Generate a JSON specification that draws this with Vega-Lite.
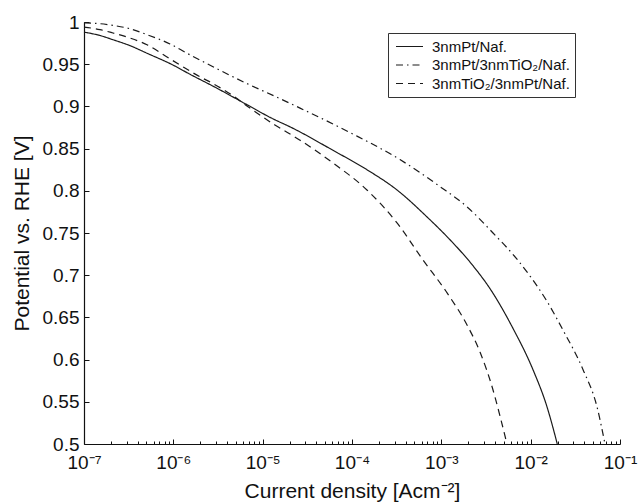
{
  "$schema": "https://vega.github.io/schema/vega-lite/v6.json",
  "autosize": {"type": "none"},
  "padding": {"left": 84, "top": 22, "right": 22, "bottom": 60},
  "width": 536,
  "height": 422,
  "background": "white",
  "config": {
    "view": {"stroke": null},
    "font": "Liberation Sans",
    "axis": {"grid": false, "domainColor": "#111", "tickColor": "#111", "labelColor": "#111", "titleColor": "#111", "labelFont": "Liberation Sans", "titleFont": "Liberation Sans", "titleFontWeight": "normal", "domainWidth": 1.2, "tickWidth": 1}
  },
  "data": {"values": [
    {"sample": "3nmPt/Naf.", "j": 1e-7, "E": 0.988},
    {"sample": "3nmPt/Naf.", "j": 1.51e-7, "E": 0.984},
    {"sample": "3nmPt/Naf.", "j": 2.11e-7, "E": 0.979},
    {"sample": "3nmPt/Naf.", "j": 3.27e-7, "E": 0.972},
    {"sample": "3nmPt/Naf.", "j": 5.07e-7, "E": 0.963},
    {"sample": "3nmPt/Naf.", "j": 9.91e-7, "E": 0.949},
    {"sample": "3nmPt/Naf.", "j": 1.54e-6, "E": 0.938},
    {"sample": "3nmPt/Naf.", "j": 2.78e-6, "E": 0.924},
    {"sample": "3nmPt/Naf.", "j": 6.68e-6, "E": 0.902},
    {"sample": "3nmPt/Naf.", "j": 1.21e-5, "E": 0.887},
    {"sample": "3nmPt/Naf.", "j": 2.19e-5, "E": 0.874},
    {"sample": "3nmPt/Naf.", "j": 6.12e-5, "E": 0.848},
    {"sample": "3nmPt/Naf.", "j": 1.47e-4, "E": 0.825},
    {"sample": "3nmPt/Naf.", "j": 3.19e-4, "E": 0.801},
    {"sample": "3nmPt/Naf.", "j": 6.92e-4, "E": 0.769},
    {"sample": "3nmPt/Naf.", "j": 1.25e-3, "E": 0.742},
    {"sample": "3nmPt/Naf.", "j": 2.27e-3, "E": 0.711},
    {"sample": "3nmPt/Naf.", "j": 3.51e-3, "E": 0.684},
    {"sample": "3nmPt/Naf.", "j": 6.34e-3, "E": 0.637},
    {"sample": "3nmPt/Naf.", "j": 1.062e-2, "E": 0.588},
    {"sample": "3nmPt/Naf.", "j": 1.524e-2, "E": 0.544},
    {"sample": "3nmPt/Naf.", "j": 1.986e-2, "E": 0.500},
    {"sample": "3nmPt/3nmTiO₂/Naf.", "j": 1e-7, "E": 0.999},
    {"sample": "3nmPt/3nmTiO₂/Naf.", "j": 1.51e-7, "E": 0.998},
    {"sample": "3nmPt/3nmTiO₂/Naf.", "j": 2.11e-7, "E": 0.996},
    {"sample": "3nmPt/3nmTiO₂/Naf.", "j": 3.27e-7, "E": 0.992},
    {"sample": "3nmPt/3nmTiO₂/Naf.", "j": 5.07e-7, "E": 0.985},
    {"sample": "3nmPt/3nmTiO₂/Naf.", "j": 9.18e-7, "E": 0.974},
    {"sample": "3nmPt/3nmTiO₂/Naf.", "j": 1.42e-6, "E": 0.963},
    {"sample": "3nmPt/3nmTiO₂/Naf.", "j": 3.16e-6, "E": 0.944},
    {"sample": "3nmPt/3nmTiO₂/Naf.", "j": 6.68e-6, "E": 0.927},
    {"sample": "3nmPt/3nmTiO₂/Naf.", "j": 1.37e-5, "E": 0.912},
    {"sample": "3nmPt/3nmTiO₂/Naf.", "j": 2.62e-5, "E": 0.898},
    {"sample": "3nmPt/3nmTiO₂/Naf.", "j": 9.51e-5, "E": 0.869},
    {"sample": "3nmPt/3nmTiO₂/Naf.", "j": 3.44e-4, "E": 0.837},
    {"sample": "3nmPt/3nmTiO₂/Naf.", "j": 9.66e-4, "E": 0.805},
    {"sample": "3nmPt/3nmTiO₂/Naf.", "j": 1.94e-3, "E": 0.781},
    {"sample": "3nmPt/3nmTiO₂/Naf.", "j": 3.79e-3, "E": 0.750},
    {"sample": "3nmPt/3nmTiO₂/Naf.", "j": 7.03e-3, "E": 0.719},
    {"sample": "3nmPt/3nmTiO₂/Naf.", "j": 9.84e-3, "E": 0.699},
    {"sample": "3nmPt/3nmTiO₂/Naf.", "j": 1.524e-2, "E": 0.669},
    {"sample": "3nmPt/3nmTiO₂/Naf.", "j": 2.30e-2, "E": 0.635},
    {"sample": "3nmPt/3nmTiO₂/Naf.", "j": 3.86e-2, "E": 0.588},
    {"sample": "3nmPt/3nmTiO₂/Naf.", "j": 5.53e-2, "E": 0.544},
    {"sample": "3nmPt/3nmTiO₂/Naf.", "j": 6.79e-2, "E": 0.500},
    {"sample": "3nmTiO₂/3nmPt/Naf.", "j": 1e-7, "E": 0.994},
    {"sample": "3nmTiO₂/3nmPt/Naf.", "j": 1.51e-7, "E": 0.991},
    {"sample": "3nmTiO₂/3nmPt/Naf.", "j": 2.11e-7, "E": 0.987},
    {"sample": "3nmTiO₂/3nmPt/Naf.", "j": 3.27e-7, "E": 0.981},
    {"sample": "3nmTiO₂/3nmPt/Naf.", "j": 5.07e-7, "E": 0.973},
    {"sample": "3nmTiO₂/3nmPt/Naf.", "j": 8.07e-7, "E": 0.960},
    {"sample": "3nmTiO₂/3nmPt/Naf.", "j": 1.19e-6, "E": 0.949},
    {"sample": "3nmTiO₂/3nmPt/Naf.", "j": 1.99e-6, "E": 0.935},
    {"sample": "3nmTiO₂/3nmPt/Naf.", "j": 2.78e-6, "E": 0.927},
    {"sample": "3nmTiO₂/3nmPt/Naf.", "j": 4.31e-6, "E": 0.915},
    {"sample": "3nmTiO₂/3nmPt/Naf.", "j": 7.21e-6, "E": 0.898},
    {"sample": "3nmTiO₂/3nmPt/Naf.", "j": 1.37e-5, "E": 0.878},
    {"sample": "3nmTiO₂/3nmPt/Naf.", "j": 2.62e-5, "E": 0.860},
    {"sample": "3nmTiO₂/3nmPt/Naf.", "j": 6.12e-5, "E": 0.833},
    {"sample": "3nmTiO₂/3nmPt/Naf.", "j": 1.47e-4, "E": 0.801},
    {"sample": "3nmTiO₂/3nmPt/Naf.", "j": 3.19e-4, "E": 0.762},
    {"sample": "3nmTiO₂/3nmPt/Naf.", "j": 6.24e-4, "E": 0.718},
    {"sample": "3nmTiO₂/3nmPt/Naf.", "j": 1.16e-3, "E": 0.679},
    {"sample": "3nmTiO₂/3nmPt/Naf.", "j": 1.94e-3, "E": 0.641},
    {"sample": "3nmTiO₂/3nmPt/Naf.", "j": 2.71e-3, "E": 0.609},
    {"sample": "3nmTiO₂/3nmPt/Naf.", "j": 3.79e-3, "E": 0.564},
    {"sample": "3nmTiO₂/3nmPt/Naf.", "j": 4.54e-3, "E": 0.533},
    {"sample": "3nmTiO₂/3nmPt/Naf.", "j": 5.43e-3, "E": 0.500}
  ]},
  "mark": {"type": "line", "color": "#1a1a1a", "strokeWidth": 1.2, "interpolate": "monotone"},
  "encoding": {
    "x": {
      "field": "j", "type": "quantitative",
      "scale": {"type": "log", "domain": [1e-7, 0.1], "nice": false},
      "axis": {
        "title": "Current density [Acm⁻²]",
        "titleFontSize": 21, "titlePadding": 6,
        "values": [1e-7,2e-7,3e-7,4e-7,5e-7,6e-7,7e-7,8e-7,9e-7,1e-6,2e-6,3e-6,4e-6,5e-6,6e-6,7e-6,8e-6,9e-6,1e-5,2e-5,3e-5,4e-5,5e-5,6e-5,7e-5,8e-5,9e-5,1e-4,2e-4,3e-4,4e-4,5e-4,6e-4,7e-4,8e-4,9e-4,1e-3,2e-3,3e-3,4e-3,5e-3,6e-3,7e-3,8e-3,9e-3,1e-2,2e-2,3e-2,4e-2,5e-2,6e-2,7e-2,8e-2,9e-2,0.1],
        "labelExpr": "abs(log(datum.value)/LN10 - round(log(datum.value)/LN10)) < 1e-6 ? '10' + ['⁻⁷','⁻⁶','⁻⁵','⁻⁴','⁻³','⁻²','⁻¹'][round(log(datum.value)/LN10) + 7] : ''",
        "labelFontSize": 19, "labelPadding": 14, "labelFlush": false, "labelOverlap": false,
        "tickSize": {"condition": {"test": "abs(log(datum.value)/LN10 - round(log(datum.value)/LN10)) < 1e-6", "value": -5}, "value": -3}
      }
    },
    "y": {
      "field": "E", "type": "quantitative",
      "scale": {"domain": [0.5, 1], "nice": false, "zero": false},
      "axis": {
        "title": "Potential vs. RHE [V]",
        "titleFontSize": 21, "titlePadding": 10,
        "values": [0.5, 0.55, 0.6, 0.65, 0.7, 0.75, 0.8, 0.85, 0.9, 0.95, 1],
        "format": "~g",
        "labelFontSize": 19, "labelPadding": 10, "tickSize": -5, "labelFlush": false
      }
    },
    "strokeDash": {
      "field": "sample", "type": "nominal",
      "scale": {"domain": ["3nmPt/Naf.", "3nmPt/3nmTiO₂/Naf.", "3nmTiO₂/3nmPt/Naf."], "range": [[1, 0], [7, 4, 1.5, 4], [7, 5]]},
      "legend": {
        "title": null, "orient": "none", "legendX": 304, "legendY": 11,
        "strokeColor": "#333", "fillColor": "white", "padding": 5, "rowPadding": 1.5,
        "symbolType": "M-1.8,0H1.8", "symbolSize": 225, "symbolStrokeWidth": 1.2, "symbolStrokeColor": "#1a1a1a", "symbolOffset": 8,
        "labelFontSize": 15, "labelFont": "Liberation Sans", "labelColor": "#111", "labelOffset": 14
      }
    }
  }
}
